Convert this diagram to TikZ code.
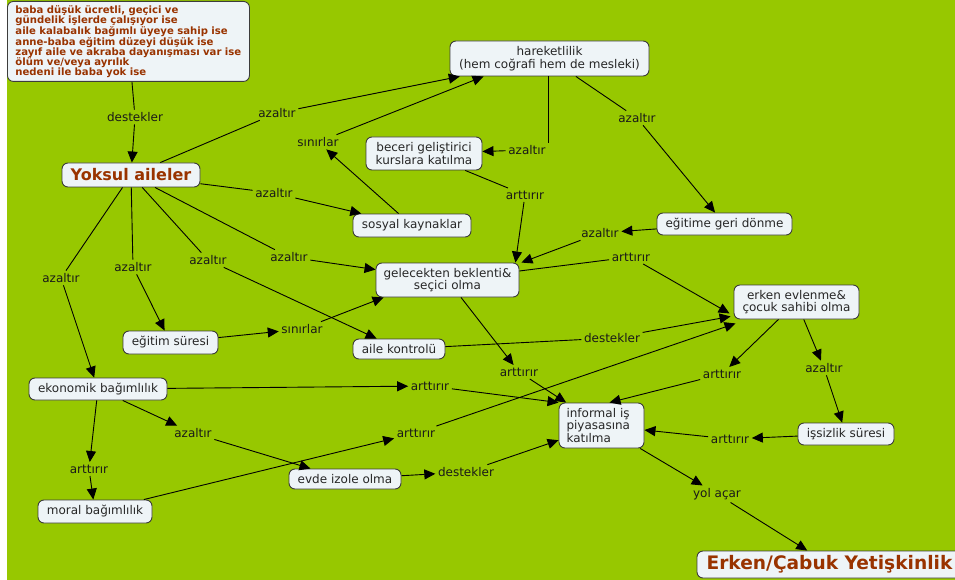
\documentclass[tikz,border=0pt]{standalone}
\usepackage{fontspec}
\setmainfont{DejaVu Sans}
\usetikzlibrary{arrows.meta,calc}
\definecolor{bggreen}{RGB}{151,200,0}
\definecolor{boxfill}{RGB}{238,244,247}
\definecolor{boxdraw}{RGB}{60,60,60}
\definecolor{brownt}{RGB}{153,51,0}
\definecolor{labtext}{RGB}{25,25,25}
\begin{document}
\begin{tikzpicture}[x=1pt,y=-1pt,
  concept/.style={draw=boxdraw, fill=boxfill, rounded corners=6pt, line width=0.9pt,
    font=\fontsize{12}{12.5}\selectfont, text=black!85, inner sep=2pt},
  lab/.style={font=\fontsize{12}{12.5}\selectfont, text=labtext, inner sep=2.5pt},
  con/.style={line width=0.9pt, draw=black},
  arr/.style={con, -{Triangle[length=11pt,width=10pt]}}
]
\useasboundingbox (0,0) rectangle (955,580);
\fill[white] (0,0) rectangle (955,580);
\fill[bggreen] (7,0) rectangle (955,580);

% concepts
\node[concept, anchor=north west, minimum width=242pt, minimum height=80pt, text width=226pt,
  inner xsep=8pt, align=left, font=\bfseries\fontsize{10.1}{10}\selectfont, text=brownt] (top) at (7,1)
  {baba düşük ücretli, geçici ve\\gündelik işlerde çalışıyor ise\\aile kalabalık bağımlı üyeye sahip ise\\anne-baba eğitim düzeyi düşük ise\\zayıf aile ve akraba dayanışması var ise\\ölüm ve/veya ayrılık\\nedeni ile baba yok ise};
\node[concept, minimum width=138pt, minimum height=24pt, font=\bfseries\fontsize{16}{16}\selectfont, text=brownt] (yok) at (131,175) {Yoksul aileler};
\node[concept, minimum width=199pt, minimum height=35pt, align=center] (hare) at (549.5,58.5) {hareketlilik\\(hem coğrafi hem de mesleki)};
\node[concept, minimum width=116pt, minimum height=33pt, align=center] (bec) at (424,153.5) {beceri geliştirici\\kurslara katılma};
\node[concept, minimum width=118pt, minimum height=23pt] (sos) at (412,225.5) {sosyal kaynaklar};
\node[concept, minimum width=135pt, minimum height=22pt] (egd) at (724.5,224) {eğitime geri dönme};
\node[concept, minimum width=143pt, minimum height=34pt, align=center] (gel) at (447.5,280) {gelecekten beklenti\&\\seçici olma};
\node[concept, minimum width=125pt, minimum height=34pt, align=center] (erk) at (796.5,302) {erken evlenme\&\\çocuk sahibi olma};
\node[concept, minimum width=95pt, minimum height=23pt] (egs) at (170.5,342.5) {eğitim süresi};
\node[concept, minimum width=92pt, minimum height=20pt] (aile) at (399,349) {aile kontrolü};
\node[concept, minimum width=138pt, minimum height=22pt] (eko) at (98,389) {ekonomik bağımlılık};
\node[concept, minimum width=114pt, minimum height=23pt] (mor) at (95,511.5) {moral bağımlılık};
\node[concept, minimum width=112pt, minimum height=20pt] (evd) at (345,479) {evde izole olma};
\node[concept, minimum height=45pt, text width=70pt, inner xsep=7.5pt, align=left] (inf) at (601.5,425.5) {informal iş\\piyasasına\\katılma};
\node[concept, minimum width=96pt, minimum height=22pt] (iss) at (846,434) {işsizlik süresi};
\node[concept, minimum width=265pt, minimum height=27pt, font=\bfseries\fontsize{18.6}{18.6}\selectfont, text=brownt] (ecy) at (829.5,564.5) {Erken/Çabuk Yetişkinlik};

% labels
\node[lab] (l1) at (135,117) {destekler};
\node[lab] (l2) at (277,113) {azaltır};
\node[lab] (l3) at (318,142) {sınırlar};
\node[lab] (l4) at (274,193) {azaltır};
\node[lab] (l5) at (527,150) {azaltır};
\node[lab] (l6) at (637,118) {azaltır};
\node[lab] (l7) at (525,195) {arttırır};
\node[lab] (l8) at (600,233) {azaltır};
\node[lab] (l9) at (631,257) {arttırır};
\node[lab] (l10) at (61,278) {azaltır};
\node[lab] (l11) at (133,267) {azaltır};
\node[lab] (l12) at (208,260) {azaltır};
\node[lab] (l13) at (289,257) {azaltır};
\node[lab] (l14) at (302,329) {sınırlar};
\node[lab] (l15) at (612,338) {destekler};
\node[lab] (l16) at (519,372) {arttırır};
\node[lab] (l17) at (430,386) {arttırır};
\node[lab] (l18) at (193,433) {azaltır};
\node[lab] (l19) at (416,433) {arttırır};
\node[lab] (l20) at (89,469) {arttırır};
\node[lab] (l21) at (466,472) {destekler};
\node[lab] (l22) at (722,374) {arttırır};
\node[lab] (l23) at (824,368) {azaltır};
\node[lab] (l24) at (730,439) {arttırır};
\node[lab] (l25) at (717,494) {yol açar};

% connectors
\draw[con] (top) -- (l1); \draw[arr] (l1) -- (yok);
\draw[con] (yok) -- (l2); \draw[arr] (l2) -- (hare);
\draw[arr] (sos) -- (l3); \draw[arr] (l3) -- ($(hare.south west)+(34,0)$);
\draw[con] (yok) -- (l4); \draw[arr] (l4) -- (sos);
\draw[con] (hare.south -| l5.north east) -- (l5.north east); \draw[arr] (l5) -- (bec);
\draw[con] (hare) -- (l6); \draw[arr] (l6) -- (egd);
\draw[con] (bec) -- (l7); \draw[arr] (l7) -- ($(gel.north east)+(-4,0)$);
\draw[arr] (egd) -- (l8); \draw[arr] (l8) -- ($(gel.north east)+(2,0)$);
\draw[con] (gel) -- (l9); \draw[arr] (l9) -- ($(erk.south west)+(-4,-6)$);
\draw[con] (yok) -- (l10); \draw[arr] (l10) -- (eko);
\draw[con] (yok) -- (l11); \draw[arr] (l11) -- (egs);
\draw[con] (yok) -- (l12); \draw[arr] (l12) -- (aile);
\draw[con] (yok) -- (l13); \draw[arr] (l13) -- (gel);
\draw[arr] (egs) -- (l14); \draw[arr] (l14) -- ($(gel.south west)+(8,0)$);
\draw[con] (aile) -- (l15); \draw[arr] (l15) -- ($(erk.south west)+(-3,-3)$);
\draw[arr] (gel) -- (l16); \draw[arr] (l16) -- (inf);
\draw[arr] (eko) -- (l17); \draw[arr] (l17) -- (inf.north west);
\draw[arr] (eko) -- (l18); \draw[arr] (l18) -- (evd);
\draw[arr] (mor) -- (l19); \draw[arr] (l19) -- ($(erk.south west)+(2,4)$);
\draw[arr] (eko) -- (l20); \draw[arr] (l20) -- (mor);
\draw[arr] (evd) -- (l21); \draw[arr] (l21) -- (inf);
\draw[arr] (erk) -- (l22); \draw[arr] (l22) -- ($(inf.north)+(8,0)$);
\draw[arr] (erk) -- (l23); \draw[arr] (l23) -- (iss);
\draw[arr] (iss) -- (l24); \draw[arr] (l24) -- (inf);
\draw[arr] (inf) -- (l25); \draw[arr] (l25) -- (ecy);
\end{tikzpicture}
\end{document}
